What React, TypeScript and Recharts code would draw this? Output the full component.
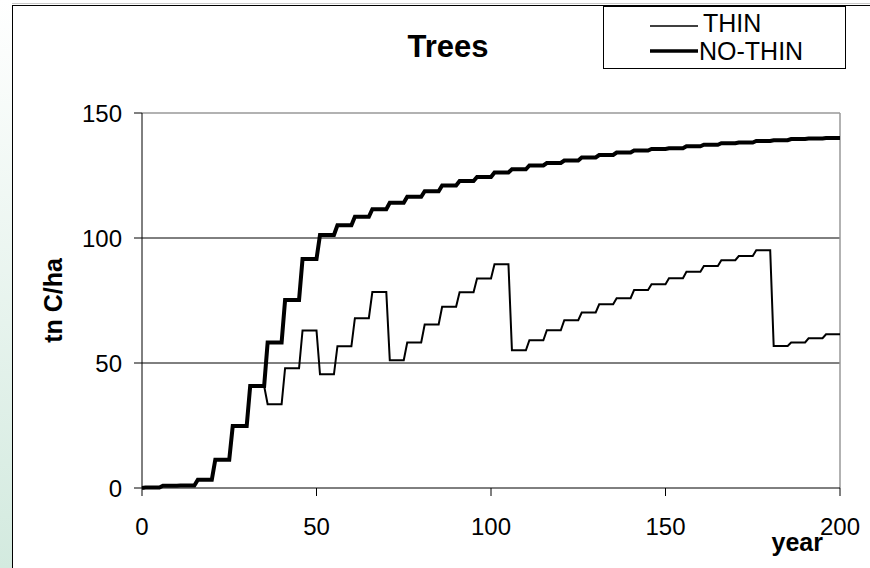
import { LineChart, Line, XAxis, YAxis, ReferenceLine, Legend, Label } from 'recharts';

// carbon stock per 5-year period (years 5k+1 .. 5k+5), tn C/ha
const thinLevels = [
  0.2, 0.9, 1.0, 3.3, 11.3, 24.8, 40.8, 33.5, 47.9, 63.0,
  45.5, 56.7, 67.9, 78.4, 51.1, 58.2, 65.4, 72.5, 78.3, 83.8,
  89.5, 55.1, 59.1, 63.1, 67.1, 70.2, 73.5, 75.9, 79.2, 81.5,
  83.9, 86.5, 88.8, 91.1, 92.8, 95.1, 56.8, 58.2, 59.9, 61.5
];

const noThinLevels = [
  0.2, 0.9, 1.0, 3.3, 11.3, 24.8, 40.8, 58.2, 75.2, 91.6,
  101.2, 105.1, 108.5, 111.5, 114.1, 116.5, 118.7, 121.0, 122.8, 124.4,
  126.2, 127.5, 129.0, 130.0, 131.0, 132.2, 133.2, 134.2, 135.0, 135.6,
  135.9, 136.7, 137.3, 137.9, 138.2, 138.8, 139.1, 139.6, 139.8, 140.0
];

const periodLength = 5;
const xTicks = [0, 50, 100, 150, 200];
const yTicks = [0, 50, 100, 150];

const series = [
  { key: 'thin', name: 'THIN', width: 2 },
  { key: 'noThin', name: 'NO-THIN', width: 4 }
];

// each period is flat from its first to its last year
const rows: { year: number; thin: number; noThin: number }[] = [{ year: 0, thin: 0, noThin: 0 }];
thinLevels.forEach((v, k) => {
  rows.push({ year: k * periodLength + 1, thin: v, noThin: noThinLevels[k] });
  rows.push({ year: k * periodLength + periodLength, thin: v, noThin: noThinLevels[k] });
});

const font = '"Liberation Sans", Arial, sans-serif';

// legend keeps the order of the series list (THIN first)
const renderLegend = () => (
  <svg width={243} height={63} style={{ display: 'block' }}>
    <rect x={0.5} y={0.5} width={242} height={62} fill="#fff" stroke="#000" />
    {series.map((s, i) => {
      const cy = 20 + i * 25;
      return (
        <g key={s.key}>
          <line x1={47} y1={cy} x2={95} y2={cy} stroke="#000" strokeWidth={i === 0 ? 1.5 : 3.5} />
          <text x={i === 0 ? 100 : 96} y={cy + 6 + i * 3} fontSize={25} fill="#000" fontFamily={font}>
            {s.name}
          </text>
        </g>
      );
    })}
  </svg>
);

const App = () => {
  return (
    <div style={{ position: 'absolute', left: 0, top: 0, width: 870, height: 568, background: '#fff', fontFamily: font }}>
      <svg width={870} height={568} style={{ position: 'absolute', left: 0, top: 0 }}>
        <defs>
          <linearGradient id="strip" x1="0" y1="0" x2="0" y2="1">
            <stop offset="0%" stopColor="#ffffff" />
            <stop offset="100%" stopColor="#d3eadf" />
          </linearGradient>
        </defs>
        <rect x={0} y={0} width={12} height={568} fill="url(#strip)" />
        <line x1={12} y1={3.5} x2={870} y2={3.5} stroke="#c8c8c8" />
        <line x1={12} y1={5.5} x2={870} y2={5.5} stroke="#000" />
        <line x1={12.5} y1={5} x2={12.5} y2={568} stroke="#000" />
        <text x={448} y={57} textAnchor="middle" fontSize={31} fontWeight="bold" fill="#000" fontFamily={font}>
          Trees
        </text>
      </svg>
      <div style={{ position: 'absolute', left: 0, top: 0 }}>
        <LineChart width={870} height={568} data={rows} margin={{ top: 113, right: 30, bottom: 0, left: 0 }}>
          <XAxis
            dataKey="year"
            type="number"
            domain={[0, 200]}
            ticks={xTicks}
            height={80}
            tickSize={8}
            tickMargin={22}
            axisLine={{ stroke: '#000' }}
            tickLine={{ stroke: '#000' }}
            tick={{ fontSize: 24, fill: '#000' }}
          >
            <Label value="year" position="insideBottomRight" offset={17} style={{ fontSize: 25, fontWeight: 'bold', fill: '#000' }} />
          </XAxis>
          <YAxis
            type="number"
            domain={[0, 150]}
            ticks={yTicks}
            width={142}
            tickSize={8}
            tickMargin={12}
            axisLine={{ stroke: '#000' }}
            tickLine={{ stroke: '#000' }}
            tick={{ fontSize: 24, fill: '#000' }}
          >
            <Label
              value="tn C/ha"
              angle={-90}
              position="insideLeft"
              offset={53}
              style={{ textAnchor: 'middle', fontSize: 25, fontWeight: 'bold', fill: '#000' }}
            />
          </YAxis>
          <ReferenceLine y={50} stroke="#000" />
          <ReferenceLine y={100} stroke="#000" />
          <ReferenceLine y={150} stroke="#999" strokeWidth={1.5} />
          <ReferenceLine x={200} stroke="#999" strokeWidth={1.5} />
          <Legend
            layout="horizontal"
            verticalAlign="middle"
            align="center"
            content={renderLegend}
            wrapperStyle={{ left: 603, top: 6, width: 243, height: 63 }}
          />
          {series.map((s) => (
            <Line
              key={s.key}
              dataKey={s.key}
              name={s.name}
              type="linear"
              stroke="#000"
              strokeWidth={s.width}
              dot={false}
              activeDot={false}
              isAnimationActive={false}
            />
          ))}
        </LineChart>
      </div>
    </div>
  );
};

export default App;
